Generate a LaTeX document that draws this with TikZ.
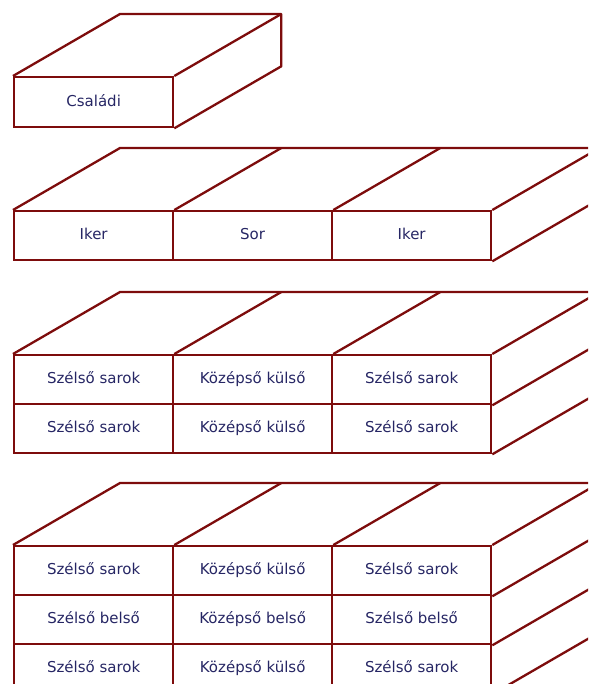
\documentclass[tikz,border=0pt]{standalone}
\usepackage{fontspec}
\setsansfont{DejaVu Sans}
\usetikzlibrary{calc}
\definecolor{edgered}{RGB}{125,12,12}
\definecolor{labelblue}{RGB}{38,38,100}

\begin{document}
\begin{tikzpicture}[x=1pt,y=-1pt,
  cell/.style={draw=edgered,line width=2.3pt,minimum width=159pt,minimum height=49pt,
    inner sep=0pt,anchor=north west,text=labelblue,text height=11pt,text depth=3pt,
    font=\sffamily\fontsize{15}{18}\selectfont},
  face/.style={draw=edgered,line width=2.3pt,line join=round}]
  \useasboundingbox (0,0) rectangle (588,684);
  \clip (0,0) rectangle (588,684);

  % single block
  \node[cell,minimum height=50pt] (fam) at (13,76) {Családi};
  \draw[face] (fam.north west) -- ++(107,-62) -- ($(fam.north east)+(107,-62)$)
    -- ($(fam.south east)+(107,-62)$) -- (fam.south east);
  \draw[face] (fam.north east) -- ++(107,-62);

  % row of three
  \node[cell] (iker1) at (13,210) {Iker};
  \node[cell] (sor)   at (172,210) {Sor};
  \node[cell] (iker2) at (331,210) {Iker};
  \draw[face] (iker1.north west) -- ++(107,-62) -- ($(iker2.north east)+(107,-62)$)
    -- ($(iker2.south east)+(107,-62)$) -- (iker2.south east);
  \foreach \c in {iker1,sor,iker2}
    \draw[face] (\c.north east) -- ++(107,-62);

  % two rows
  \foreach \r/\y in {1/354,2/403} {
    \node[cell] (c\r1) at (13,\y)  {Szélső sarok};
    \node[cell] (c\r2) at (172,\y) {Középső külső};
    \node[cell] (c\r3) at (331,\y) {Szélső sarok};
  }
  \draw[face] (c11.north west) -- ++(107,-62) -- ($(c13.north east)+(107,-62)$)
    -- ($(c23.south east)+(107,-62)$) -- (c23.south east);
  \foreach \c in {c11.north east,c12.north east,c13.north east,c13.south east}
    \draw[face] (\c) -- ++(107,-62);

  % three rows
  \foreach \r/\y/\lb/\lm in {1/545/sarok/külső,2/594/belső/belső,3/643/sarok/külső} {
    \node[cell] (d\r1) at (13,\y)  {Szélső \lb};
    \node[cell] (d\r2) at (172,\y) {Középső \lm};
    \node[cell] (d\r3) at (331,\y) {Szélső \lb};
  }
  \draw[face] (d11.north west) -- ++(107,-62) -- ($(d13.north east)+(107,-62)$)
    -- ($(d33.south east)+(107,-62)$) -- (d33.south east);
  \foreach \c in {d11.north east,d12.north east,d13.north east,d13.south east,d23.south east}
    \draw[face] (\c) -- ++(107,-62);
\end{tikzpicture}
\end{document}
